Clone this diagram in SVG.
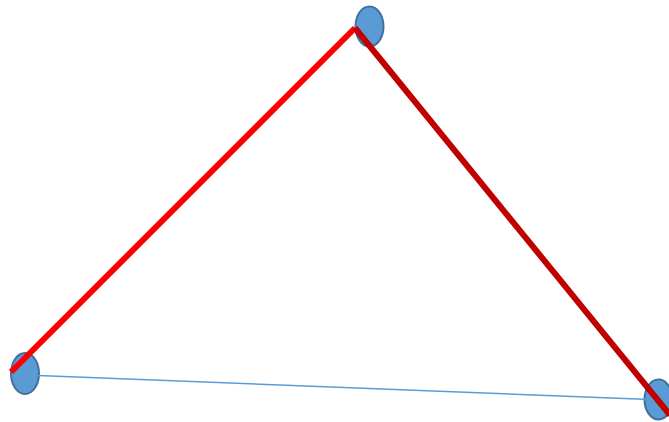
<svg xmlns="http://www.w3.org/2000/svg" width="669" height="422" viewBox="0 0 669 422">
<style>
.node{fill:#5B9BD5;stroke:#41719C;stroke-width:2}
</style>
<rect width="669" height="422" fill="#fff"/>
<g id="n1"><ellipse class="node" cx="369.5" cy="26.5" rx="14" ry="20"/></g>
<g id="n2"><ellipse class="node" cx="25" cy="373.5" rx="14" ry="20.5"/></g>
<g id="n3"><ellipse class="node" cx="658.5" cy="399.5" rx="14" ry="20"/></g>
<g id="connectors">
<line x1="38" y1="375.5" x2="650" y2="399.5" stroke="#5B9BD5" stroke-width="1.5"/>
<line x1="11" y1="372" x2="355" y2="28" stroke="#FF0000" stroke-width="6"/>
<line x1="355" y1="28" x2="670" y2="415" stroke="#C00000" stroke-width="6"/>
</g>
</svg>
